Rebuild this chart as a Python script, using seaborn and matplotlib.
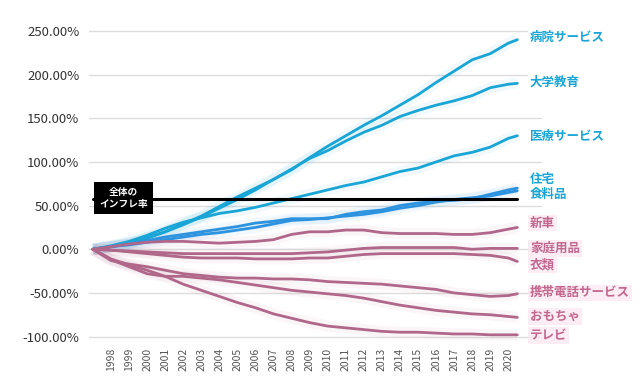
import pandas as pd
import matplotlib
matplotlib.use("Agg")
import matplotlib.pyplot as plt
import seaborn as sns

# 年 (最後の点は2020年半ば)
years = [1997, 1998, 1999, 2000, 2001, 2002, 2003, 2004, 2005, 2006, 2007, 2008,
         2009, 2010, 2011, 2012, 2013, 2014, 2015, 2016, 2017, 2018, 2019, 2020, 2020.5]

hospital = [0, 3, 7, 13, 20, 29, 38, 49, 60, 70, 80, 91, 105, 118, 130, 142, 153, 165, 177, 191, 204, 217, 224, 236, 240]
college = [0, 3, 7, 13, 20, 28, 37, 47, 57, 68, 80, 92, 104, 113, 124, 134, 142, 152, 159, 165, 170, 176, 185, 189, 190]
medical = [0, 4, 9, 16, 24, 31, 36, 41, 44, 48, 53, 58, 63, 68, 73, 77, 83, 89, 93, 100, 107, 111, 117, 127, 130]
housing = [0, 3, 6, 10, 14, 17, 20, 23, 26, 30, 32, 35, 35, 35, 40, 43, 45, 50, 53, 55, 56, 58, 63, 68, 70]
food = [0, 3, 5, 8, 11, 14, 17, 19, 22, 25, 29, 33, 34, 36, 38, 40, 43, 47, 50, 54, 57, 59, 61, 65, 67]
new_car = [0, 3, 6, 8, 9, 9, 8, 7, 8, 9, 11, 17, 20, 20, 22, 22, 19, 18, 18, 18, 17, 17, 19, 23, 25]
household = [0, -1, -2, -3, -4, -5, -5, -5, -5, -5, -5, -5, -4, -3, -1, 1, 2, 2, 2, 2, 2, 0, 1, 1, 1]
clothing = [0, -1, -3, -5, -7, -9, -10, -10, -10, -11, -11, -11, -10, -10, -8, -6, -5, -5, -5, -5, -5, -6, -7, -10, -14]
cellphone = [0, -13, -17, -20, -24, -28, -30, -32, -33, -33, -34, -34, -35, -37, -38, -39, -40, -42, -44, -46, -50, -52, -54, -53, -51]
toys = [0, -12, -20, -28, -31, -31, -33, -35, -38, -41, -44, -47, -49, -51, -53, -56, -60, -64, -67, -70, -72, -74, -75, -77, -78]
tv = [0, -11, -18, -24, -31, -40, -47, -54, -61, -67, -74, -79, -84, -88, -90, -92, -94, -95, -95, -96, -97, -97, -98, -98, -98]

overall_inflation = 58

names = ["病院サービス", "大学教育", "医療サービス", "住宅", "食料品", "新車",
         "家庭用品", "衣類", "携帯電話サービス", "おもちゃ", "テレビ"]
series = [hospital, college, medical, housing, food, new_car,
          household, clothing, cellphone, toys, tv]
label_y = [243, 191, 129, 80, 63, 30, 1, -18, -50, -77, -99]

cyan = "#19a5d6"
blue = "#2e93de"
mauve = "#b0678a"
pink_text = "#c2688f"
line_colors = [cyan, cyan, cyan, blue, blue, mauve, mauve, mauve, mauve, mauve, mauve]
text_colors = [cyan] * 5 + [pink_text] * 6

rows = []
for name, vals in zip(names, series):
    for y, v in zip(years, vals):
        rows.append({"year": y, "value": v, "item": name})
df = pd.DataFrame(rows)

sns.set_style("white")
plt.rcParams["font.family"] = ["Noto Sans CJK JP", "DejaVu Sans"]

fig = plt.figure(figsize=(6.4, 3.91), dpi=100)
ax = fig.add_axes([0.139, 0.128, 0.708, 0.804])

# うっすらとした光彩
for name, c in zip(names, line_colors):
    sub = df[df["item"] == name]
    ax.plot(sub["year"], sub["value"], color=c, lw=8, alpha=0.06,
            solid_capstyle="butt", zorder=1)

sns.lineplot(data=df, x="year", y="value", hue="item", hue_order=names,
             palette=dict(zip(names, line_colors)), linewidth=2,
             legend=False, ax=ax, zorder=3)

ax.set_xlim(1996.78, 2021.87)
ax.set_ylim(-105, 255)
ax.set_yticks([250, 200, 150, 100, 50, 0, -50, -100])
ax.set_yticklabels([f"{v:.2f}%" for v in [250, 200, 150, 100, 50, 0, -50, -100]])
ax.set_xticks(list(range(1998, 2021)))
ax.set_xticklabels([str(y) for y in range(1998, 2021)], rotation=90)
ax.tick_params(axis="y", length=0, pad=7, labelsize=9.5, labelcolor="#333333")
ax.tick_params(axis="x", length=0, pad=5, labelsize=7.5, labelcolor="#555555")
ax.set_xlabel("")
ax.set_ylabel("")
ax.grid(axis="y", color="#dddddd", lw=1)
ax.grid(axis="x", visible=False)
ax.set_axisbelow(True)
for s in ax.spines.values():
    s.set_visible(False)

# 全体のインフレ率
ax.plot([1997, 2020.5], [overall_inflation, overall_inflation], color="black", lw=2.2, zorder=4)
ax.text(1998.7, overall_inflation + 1, "全体の\nインフレ率", color="white", fontsize=7,
        fontweight="bold", ha="center", va="center", linespacing=1.3, zorder=6,
        bbox=dict(boxstyle="square,pad=0.5", fc="black", ec="none"))

for name, ly, tc in zip(names, label_y, text_colors):
    if tc == cyan:
        bb = dict(boxstyle="square,pad=0.15", fc="white", ec="none")
    else:
        bb = dict(boxstyle="square,pad=0.15", fc="#fce6f0", ec="none", alpha=0.7)
    ax.text(2021.2, ly, name, color=tc, fontsize=9, fontweight="bold",
            ha="left", va="center", clip_on=False, zorder=7, bbox=bb)

fig.savefig("out.png", dpi=100)
